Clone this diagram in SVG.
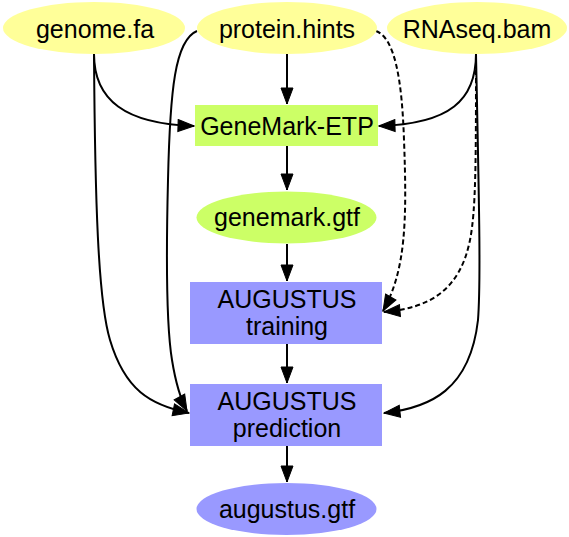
<svg xmlns="http://www.w3.org/2000/svg" width="569" height="537" viewBox="0 0 569 537">
<defs>
<marker id="ah" viewBox="-1 -1 18 14" refX="16" refY="6" markerWidth="18" markerHeight="14" markerUnits="userSpaceOnUse" orient="auto">
<path d="M0,0 L16,6 L0,12 Z" fill="#000" stroke="#000" stroke-width="1"/>
</marker>
<style>
text{font-family:"Liberation Sans",Arial,sans-serif;font-size:25px;fill:#000;text-anchor:middle}
.y{fill:#ffff99}
.g{fill:#ccff66}
.p{fill:#9999ff}
.e{fill:none;stroke:#000;stroke-width:2;marker-end:url(#ah)}
.d{stroke-dasharray:5,3}
</style>
</defs>
<g id="edges">
<path class="e" d="M94,54 C94,100 125,124 194,126"/>
<path class="e" d="M94,54 C95,200 98,300 110,340 C125,390 150,405 189,413"/>
<path class="e" d="M287,54 L287,104"/>
<path class="e" d="M197,31 C175,40 170,90 168,180 C166,260 167,330 172,360 C176,385 180,398 187,411"/>
<path class="e d" d="M376,31 C395,38 402,80 404,140 C407,220 406,270 383,311"/>
<path class="e" d="M476,54 C476,100 450,124 379,126"/>
<path class="e d" d="M476,54 C476,160 476,210 470,240 C460,290 430,308 384,312"/>
<path class="e" d="M476,54 C479,200 481,280 478,320 C470,390 430,408 384,413"/>
<path class="e" d="M287,146 L287,190"/>
<path class="e" d="M287,244 L287,281"/>
<path class="e" d="M287,344 L287,383"/>
<path class="e" d="M287,446 L287,482"/>
</g>
<g id="genome"><ellipse class="y" cx="94" cy="28" rx="91" ry="26"/><text x="95" y="37.5">genome.fa</text></g>
<g id="protein"><ellipse class="y" cx="287" cy="28" rx="90" ry="26"/><text x="287" y="37.5">protein.hints</text></g>
<g id="rnaseq"><ellipse class="y" cx="477" cy="28" rx="90" ry="26"/><text x="477" y="37.5">RNAseq.bam</text></g>
<g id="genemark"><rect class="g" x="195" y="105" width="183" height="41"/><text x="287" y="135">GeneMark-ETP</text></g>
<g id="genemarkgtf"><ellipse class="g" cx="286.5" cy="217.5" rx="90" ry="26"/><text x="287" y="226">genemark.gtf</text></g>
<g id="training"><rect class="p" x="190" y="282" width="192" height="62"/><text x="287" y="308">AUGUSTUS</text><text x="287" y="335">training</text></g>
<g id="prediction"><rect class="p" x="190" y="384" width="192" height="62"/><text x="287" y="410">AUGUSTUS</text><text x="287" y="437">prediction</text></g>
<g id="augustusgtf"><ellipse class="p" cx="286.5" cy="509" rx="90" ry="26"/><text x="287" y="518">augustus.gtf</text></g>
</svg>
